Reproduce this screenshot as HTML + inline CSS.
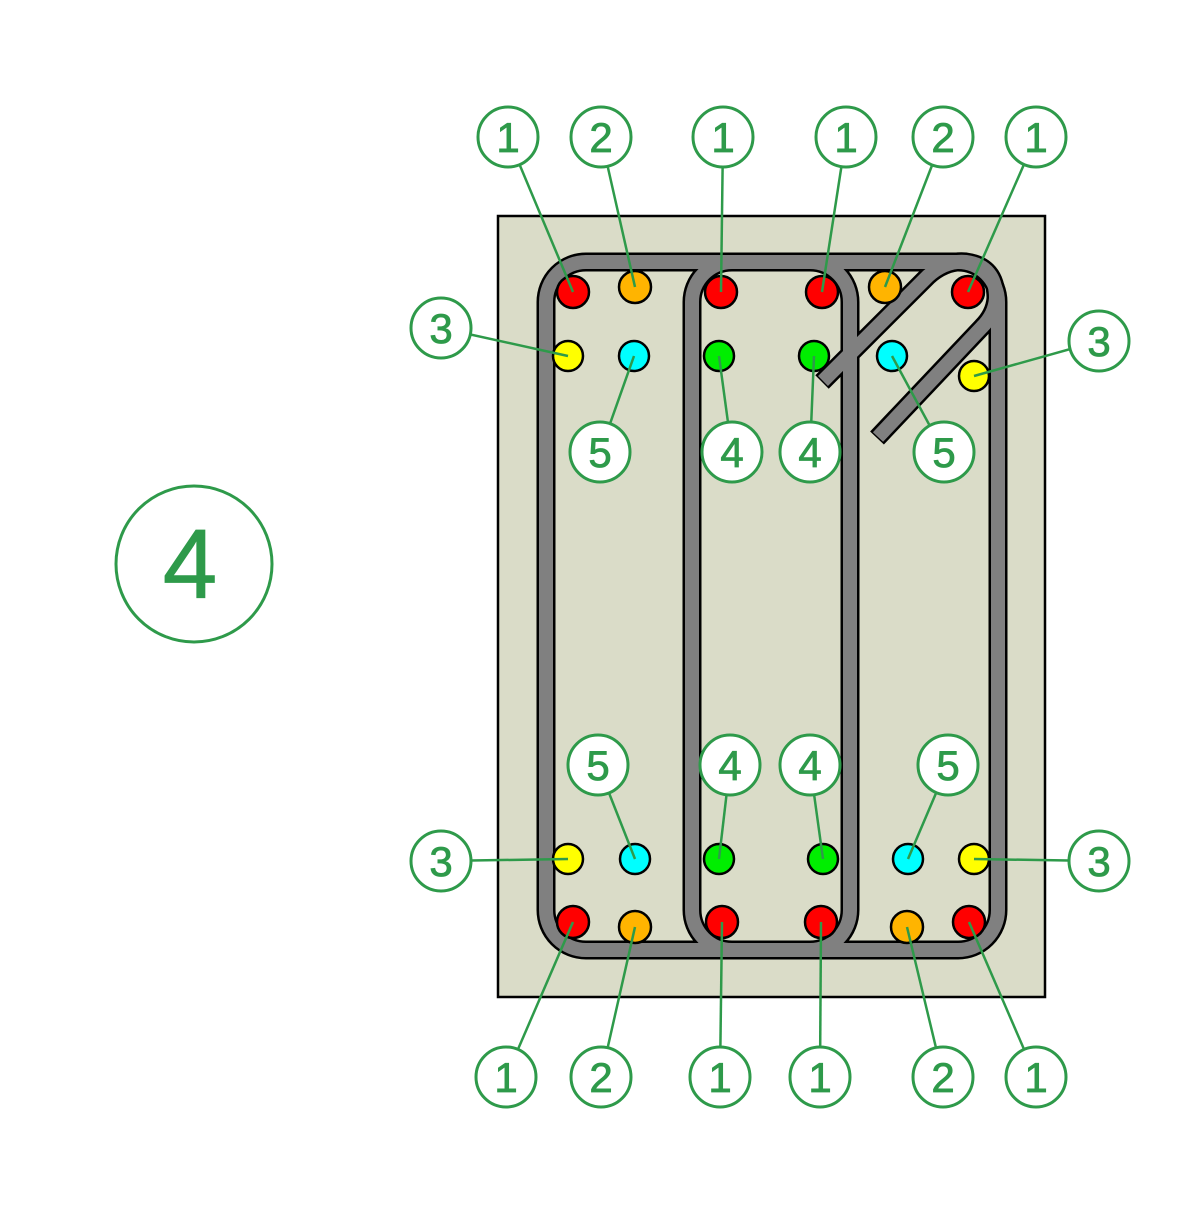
<!DOCTYPE html>
<html><head><style>html,body{margin:0;padding:0;background:#fff}</style></head>
<body>
<svg width="1200" height="1200" viewBox="0 0 1200 1200" xmlns="http://www.w3.org/2000/svg">
<rect x="498" y="216" width="547" height="781" fill="#dadcc8" stroke="#000" stroke-width="2.5"/>
<g fill="none" stroke-linecap="butt" stroke-linejoin="round">
<g stroke="#000" stroke-width="19">
<path d="M700,262 H958 A40,40 0 0 1 998,302 V910 A40,40 0 0 1 958,950 H586 A40,40 0 0 1 546,910 V302 A40,40 0 0 1 586,262 H700"/>
<path d="M732,262 H810 A40,40 0 0 1 850,302 V910 A40,40 0 0 1 810,950 H732 A40,40 0 0 1 692,910 V302 A40,40 0 0 1 732,262 Z"/>
<path d="M822,382 L928,276 Q946,260 966,262 Q996,266 996,298 Q995,314 982,327 L877,438"/>
</g>
<g stroke="#808080" stroke-width="14">
<path d="M700,262 H958 A40,40 0 0 1 998,302 V910 A40,40 0 0 1 958,950 H586 A40,40 0 0 1 546,910 V302 A40,40 0 0 1 586,262 H700"/>
<path d="M732,262 H810 A40,40 0 0 1 850,302 V910 A40,40 0 0 1 810,950 H732 A40,40 0 0 1 692,910 V302 A40,40 0 0 1 732,262 Z"/>
<path d="M823,381 L928,276 Q946,260 966,262 Q996,266 996,298 Q995,314 982,327 L878,437"/>
</g>
</g>
<g stroke="#000" stroke-width="2.5">
<circle cx="573" cy="292" r="16" fill="#f00"/><circle cx="635" cy="287" r="16" fill="#ffb400"/>
<circle cx="721" cy="292" r="16" fill="#f00"/><circle cx="822" cy="292" r="16" fill="#f00"/>
<circle cx="885" cy="287" r="16" fill="#ffb400"/><circle cx="968" cy="292" r="16" fill="#f00"/>
<circle cx="568" cy="356" r="15" fill="#ff0"/><circle cx="634" cy="356" r="15" fill="#0ff"/>
<circle cx="719" cy="356" r="15" fill="#0e0"/><circle cx="814" cy="356" r="15" fill="#0e0"/>
<circle cx="892" cy="356" r="15" fill="#0ff"/><circle cx="974" cy="376" r="15" fill="#ff0"/>
<circle cx="568" cy="859" r="15" fill="#ff0"/><circle cx="635" cy="859" r="15" fill="#0ff"/>
<circle cx="719" cy="859" r="15" fill="#0e0"/><circle cx="823" cy="859" r="15" fill="#0e0"/>
<circle cx="908" cy="859" r="15" fill="#0ff"/><circle cx="974" cy="859" r="15" fill="#ff0"/>
<circle cx="573" cy="922" r="16" fill="#f00"/><circle cx="635" cy="927" r="16" fill="#ffb400"/>
<circle cx="722" cy="922" r="16" fill="#f00"/><circle cx="821" cy="922" r="16" fill="#f00"/>
<circle cx="907" cy="927" r="16" fill="#ffb400"/><circle cx="969" cy="922" r="16" fill="#f00"/>
</g>
<g stroke="#2e9a4a" stroke-width="2.5">
<line x1="508" y1="137" x2="573" y2="292"/><line x1="601" y1="137" x2="635" y2="287"/>
<line x1="723" y1="137" x2="721" y2="292"/><line x1="846" y1="137" x2="822" y2="292"/>
<line x1="943" y1="137" x2="885" y2="287"/><line x1="1036" y1="137" x2="968" y2="292"/>
<line x1="441" y1="328" x2="568" y2="356"/><line x1="1099" y1="341" x2="974" y2="376"/>
<line x1="600" y1="452" x2="634" y2="356"/><line x1="732" y1="452" x2="719" y2="356"/>
<line x1="810" y1="452" x2="814" y2="356"/><line x1="944" y1="452" x2="892" y2="356"/>
<line x1="598" y1="765" x2="635" y2="859"/><line x1="730" y1="765" x2="719" y2="859"/>
<line x1="810" y1="765" x2="823" y2="859"/><line x1="948" y1="765" x2="908" y2="859"/>
<line x1="441" y1="861" x2="568" y2="859"/><line x1="1099" y1="861" x2="974" y2="859"/>
<line x1="506" y1="1077" x2="573" y2="922"/><line x1="601" y1="1077" x2="635" y2="927"/>
<line x1="720" y1="1077" x2="722" y2="922"/><line x1="820" y1="1077" x2="821" y2="922"/>
<line x1="943" y1="1077" x2="907" y2="927"/><line x1="1036" y1="1077" x2="969" y2="922"/>
</g>
<g fill="#fff" stroke="#2e9a4a" stroke-width="3">
<circle cx="508" cy="137" r="30"/><circle cx="601" cy="137" r="30"/><circle cx="723" cy="137" r="30"/>
<circle cx="846" cy="137" r="30"/><circle cx="943" cy="137" r="30"/><circle cx="1036" cy="137" r="30"/>
<circle cx="441" cy="328" r="30"/><circle cx="1099" cy="341" r="30"/>
<circle cx="600" cy="452" r="30"/><circle cx="732" cy="452" r="30"/><circle cx="810" cy="452" r="30"/><circle cx="944" cy="452" r="30"/>
<circle cx="598" cy="765" r="30"/><circle cx="730" cy="765" r="30"/><circle cx="810" cy="765" r="30"/><circle cx="948" cy="765" r="30"/>
<circle cx="441" cy="861" r="30"/><circle cx="1099" cy="861" r="30"/>
<circle cx="506" cy="1077" r="30"/><circle cx="601" cy="1077" r="30"/><circle cx="720" cy="1077" r="30"/>
<circle cx="820" cy="1077" r="30"/><circle cx="943" cy="1077" r="30"/><circle cx="1036" cy="1077" r="30"/>
<circle cx="194" cy="564" r="78"/>
</g>
<g fill="#2e9a4a" stroke="#2e9a4a" stroke-width="0.8" font-family="Liberation Sans, sans-serif" font-size="42" text-anchor="middle">
<text x="508" y="152">1</text><text x="601" y="152">2</text><text x="723" y="152">1</text>
<text x="846" y="152">1</text><text x="943" y="152">2</text><text x="1036" y="152">1</text>
<text x="441" y="343">3</text><text x="1099" y="356">3</text>
<text x="600" y="467">5</text><text x="732" y="467">4</text><text x="810" y="467">4</text><text x="944" y="467">5</text>
<text x="598" y="780">5</text><text x="730" y="780">4</text><text x="810" y="780">4</text><text x="948" y="780">5</text>
<text x="441" y="876">3</text><text x="1099" y="876">3</text>
<text x="506" y="1092">1</text><text x="601" y="1092">2</text><text x="720" y="1092">1</text>
<text x="820" y="1092">1</text><text x="943" y="1092">2</text><text x="1036" y="1092">1</text>
<text x="190" y="598" font-size="98">4</text>
</g>
</svg>
</body></html>
